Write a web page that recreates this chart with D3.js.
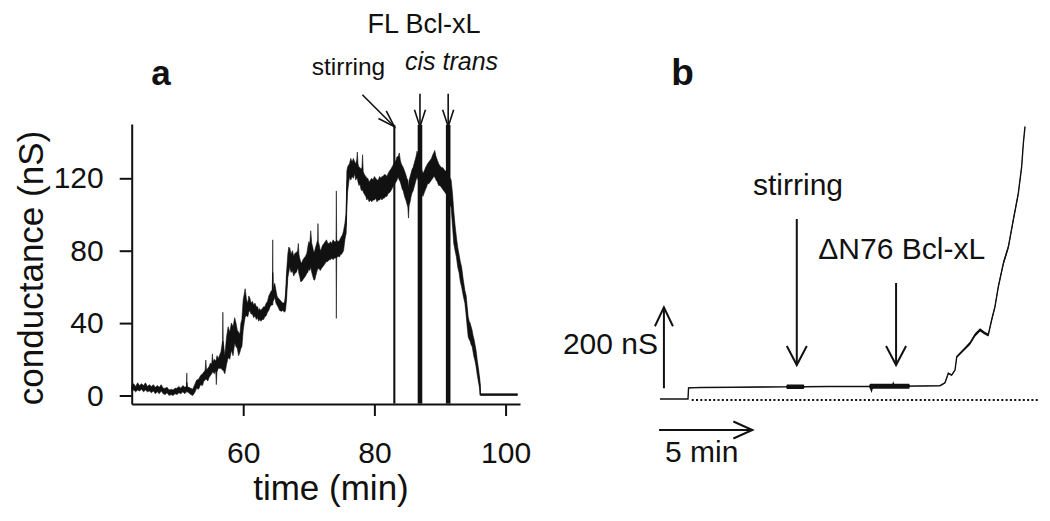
<!DOCTYPE html>
<html><head><meta charset="utf-8">
<script src="https://cdn.jsdelivr.net/npm/d3@7"></script>
<style>
body{margin:0;background:#fff}
svg{display:block}
text{font-family:"Liberation Sans",Arial,Helvetica,sans-serif;fill:#111}
</style>
</head><body>
<svg id="chart" width="1050" height="521"></svg>
<script>
// ---------- Panel a : conductance (nS) vs time (min), envelope [time, low, high] ----------
const traceA = [
 [43.0,2.5,5.5],[43.3,3,6.5],[43.6,2,5],[43.9,3,7],[44.2,2.5,5.5],[44.5,3.5,6.5],[44.8,2,5.5],
 [45.1,3,7],[45.4,2,5],[45.7,2.5,6],[46.0,1.5,5],[46.3,2.5,6],[46.6,1,4.5],[46.9,2,5.5],[47.2,1,4.5],
 [47.5,2.5,6],[47.8,1,4],[48.1,0.5,4],[48.4,1.5,4.5],[48.7,0,3],[49.0,0.5,3.5],[49.3,0,3],[49.6,1,4],
 [49.9,0.5,4],[50.2,1.5,5],[50.5,1,4],[50.8,2,5.5],[51.1,1,4.5],[51.35,2,5],[51.4,2,12.4],[51.45,2,5],
 [51.7,1.5,4.5],[52.0,0.5,4],[52.3,0,3.5],[52.6,1.5,6],[52.9,4,8.5],[53.2,3.5,9],[53.5,6,11],
 [53.8,5.5,12],[54.0,8,13],[54.2,8.5,14],[54.3,9,19.6],[54.4,9,14],[54.6,8,15],[54.8,10,16],
 [55.0,11,18],[55.2,12,17],[55.3,13,23],[55.4,13,18.6],[55.6,12,20],[55.8,14,19],[55.9,6,20],
 [56.0,13,22],[56.2,15,20.5],[56.6,15,24],[56.85,14,30],[56.9,14,46],[56.95,14,30],[57.2,12,22],
 [57.45,17,32],[57.7,21,38],[57.95,20,35],[58.2,25,40],[58.45,22,38],[58.7,29,43],[58.9,27,40],
 [59.1,26,36],[59.3,22,35],[59.5,24,34],[59.65,26,40],[59.8,27,42],[60.0,36,53],[60.15,40,56],
 [60.3,43.5,59],[60.5,44,53],[60.7,43.5,51],[60.85,46,55],[61.0,47,54],[61.2,45,51],[61.4,45,52],
 [61.6,43,50],[61.8,44,51],[62.0,42,49],[62.2,43,49],[62.35,41,47],[62.5,42,48],[62.7,41,47],
 [62.9,42,48],[63.1,42,49],[63.3,43.5,49],[63.5,44,51],[63.7,46,52],[63.9,47,55],[64.1,49,56.5],
 [64.3,50,58],[64.45,50,57],[64.5,50,86],[64.55,52,58],[64.7,53,61],[64.8,54.5,62],[65.0,51,58],
 [65.15,50,55],[65.3,49,54],[65.55,47,53],[65.8,46.5,52],[66.05,47,51],[66.3,46,51.5],[66.45,47,56],
 [66.6,52.7,67.6],[66.8,65,78],[66.95,68,82],[67.1,71,81.4],[67.3,68,78],[67.5,69,80],[67.7,66,77],
 [67.9,67.6,78.6],[68.1,68,79],[68.3,70,80],[68.4,70,84],[68.5,67,78],[68.6,66,76],[68.75,63,74],
 [68.9,63,73],[69.1,64,75],[69.3,65,76],[69.5,66,77],[69.7,67.6,78.6],[69.85,68,82],[70.0,70,85],
 [70.15,69,84],[70.3,71,91],[70.45,68,84],[70.6,66,82],[70.75,64,79],[70.9,63.7,80],[71.05,66,82],
 [71.2,68,84],[71.35,70,86],[71.4,70,95],[71.45,70,85],[71.6,70,83],[71.75,69,80],[71.9,70,81],
 [72.1,71,83],[72.3,72,84],[72.5,73,85],[72.7,74,86],[72.9,74,84],[73.1,75,84],[73.3,75,85],
 [73.5,76,84],[73.7,75,86],[73.9,76,85],[74.15,76,85],[74.2,42.6,113],[74.25,76,86],[74.45,77,85],
 [74.7,76.6,85.8],[74.85,78,87],[75.0,78,88],[75.15,79,89],[75.3,80,91],[75.5,86,95],[75.6,88,98],
 [75.7,89.6,100.7],[75.8,104,124],[75.9,112,126],[76.0,115,127],[76.2,120.7,128],[76.4,119,131],
 [76.6,121,129],[76.8,120,131],[77.0,122.6,129],[77.15,119,128],[77.3,120,130],[77.4,120,134.5],
 [77.5,118,128],[77.65,116,126],[77.8,117,126],[77.95,114,125],[78.1,113,126],[78.2,114,133],
 [78.3,112.4,123.5],[78.5,111,122],[78.7,110,121],[78.85,108,120],[79.0,109,120],[79.2,107,118],
 [79.4,108,119],[79.6,107,120],[79.8,108,119],[80.0,108,121],[80.2,109,120],[80.4,107,119],
 [80.6,108,119],[80.8,108,121],[81.0,109,120],[81.15,108,121],[81.3,109,121],[81.5,109,122],
 [81.7,110,122],[81.9,110,121],[82.1,111.6,122.7],[82.3,112,124],[82.5,113,125],[82.65,114,126],
 [82.8,115,127],[83.1,117,129],[83.3,118,130],[83.45,119,132],[83.6,120.7,131.7],[83.8,119,134],
 [83.95,118,130],[84.1,116,128],[84.25,114,127],[84.4,113,126],[84.6,110,124],[84.8,108,122],
 [84.95,106,120],[85.1,104,119],[85.2,98,115],[85.3,105,119],[85.45,107,121],[85.6,110,123],
 [85.75,112,125],[85.9,113,126],[86.05,115,128],[86.2,117,130],[86.35,119,132],[86.5,120.7,135],
 [86.8,118,132],[87.2,112,125],[87.4,110,122.7],[87.6,112,124],[87.8,114,126],[87.95,115,127],
 [88.1,117,128],[88.3,117,129],[88.5,118,130],[88.7,119,131],[88.9,120,133],[89.05,121,134],
 [89.2,120.7,135.4],[89.4,119,132],[89.6,118,130],[89.8,116,128],[90.0,116,127],[90.2,115,126],
 [90.4,114,126],[90.6,113,125],[90.8,112,124],[91.0,111,124],[91.4,106,121],[91.7,104,119],
 [91.9,94,112],[92.1,84,102],[92.3,80,94],[92.5,76.6,87.6],[92.7,71,82],[92.9,68,78],[93.1,63,74],
 [93.3,60,71],[93.55,55,64],[93.8,51,58],[94.0,44,55],[94.15,38,49],[94.3,32.4,43.5],[94.45,31,41],
 [94.6,30,40],[94.75,28,38],[94.9,27,36],[95.05,24,33],[95.2,21,31],[95.35,19,28],[95.5,16,25],
 [95.7,11,19],[95.9,6.7,14],[96.1,3,8],[96.15,0,1],[101.8,0,1]
];
// full-range artefacts at the stirring / cis / trans additions: [start, end] in min
const spikesA = [[82.88,83.2],[86.6,87.3],[90.9,91.6]];
const spikeRangeA = [-4.5,149.5];
const xTicksA = [60,80,100];
const yTicksA = [0,40,80,120];
const arrowTimesA = [83.05, 86.95, 91.25];

// ---------- Panel b : conductance (nS) vs time (min), envelope [time, low, high] ----------
const traceB = [
 [0,2.5,2.5],[1.5,2.5,2.5],[1.53,29,31],[2.2,30.5,31.5],[4,31,32],[5.5,31.5,32.5],[6.75,32,33],
 [6.8,27,38],[7.7,27,38],[7.75,32,33.5],[9,32.5,34],[11.2,33,34],[11.25,28,40],[11.34,17,40],
 [11.4,28,40],[12.45,28,40],[12.5,28,46],[12.55,28,40],[13.35,28,40],[13.4,33.5,35],[15.0,34.5,36],
 [15.27,41,44],[15.45,64,68],[15.63,60,63],[15.81,72,76],[15.9,104,109],[16.08,112,118],
 [16.35,124,131],[16.61,136,144],[16.88,156,165],[17.15,169,177],[17.42,161,168],[17.59,157,164],
 [17.77,193,202],[17.95,226,235],[18.13,275,285],[18.4,332,343],[18.67,373,384],[18.93,438,450],
 [19.2,504,516],[19.38,570,582],[19.47,628,640],[19.56,670,680]
];
const baselineB = [1.7, 20.35];          // dotted zero line (min)
const arrowTimesB = [7.33, 12.65];
const scaleBarNS = 200, scaleBarMin = 5;

const svg = d3.select("#chart");
const ink = "#111";

function arrow(g, x1, y1, x2, y2, len, half, w) {
  const a = Math.atan2(y2 - y1, x2 - x1);
  g.append("line").attr("x1", x1).attr("y1", y1).attr("x2", x2).attr("y2", y2)
    .attr("stroke", ink).attr("stroke-width", w);
  const bx = x2 - len * Math.cos(a), by = y2 - len * Math.sin(a);
  const px = -Math.sin(a) * half, py = Math.cos(a) * half;
  g.append("path").attr("d", `M${bx+px},${by+py}L${x2},${y2}L${bx-px},${by-py}`)
    .attr("fill", "none").attr("stroke", ink).attr("stroke-width", w);
}

// ================= Panel a =================
const xA = d3.scaleLinear().domain([43.0, 102.2]).range([131.7, 520]);
const yA = d3.scaleLinear().domain([-4.7, 150]).range([404, 124]);
const ga = svg.append("g");

ga.append("path").datum(traceA)
  .attr("d", d3.area().x(d => xA(d[0])).y0(d => yA(d[1])).y1(d => yA(d[2])))
  .attr("fill", ink).attr("stroke", ink).attr("stroke-width", 0.6);
ga.append("path").datum(traceA)
  .attr("d", d3.line().x(d => xA(d[0])).y(d => yA((d[1] + d[2]) / 2)))
  .attr("fill", "none").attr("stroke", ink).attr("stroke-width", 1.3);
ga.selectAll("rect.sp").data(spikesA).enter().append("rect")
  .attr("x", d => xA(d[0])).attr("width", d => xA(d[1]) - xA(d[0]))
  .attr("y", yA(spikeRangeA[1])).attr("height", yA(spikeRangeA[0]) - yA(spikeRangeA[1]))
  .attr("fill", ink);

const axX = ga.append("g").attr("transform", "translate(0,404)")
  .call(d3.axisBottom(xA).tickValues(xTicksA).tickSize(12).tickSizeOuter(0).tickFormat(d3.format("d")));
axX.selectAll("text").attr("y", 59).attr("dy", 0).style("font-size", "30px").attr("fill", ink);
const axY = ga.append("g").attr("transform", "translate(131.7,0)")
  .call(d3.axisLeft(yA).tickValues(yTicksA).tickSize(12).tickSizeOuter(0).tickPadding(16).tickFormat(d3.format("d")));
axY.selectAll("text").style("font-size", "30px").attr("fill", ink);
[axX, axY].forEach(ax => {
  ax.select(".domain").attr("stroke", ink).attr("stroke-width", 2);
  ax.selectAll(".tick line").attr("stroke", ink).attr("stroke-width", 2);
});

ga.append("text").attr("x", 331).attr("y", 500).attr("text-anchor", "middle")
  .style("font-size", "35px").text("time (min)");
ga.append("text").attr("transform", "translate(43,268) rotate(-90)").attr("text-anchor", "middle")
  .style("font-size", "35px").text("conductance (nS)");
ga.append("text").attr("x", 161).attr("y", 85).attr("text-anchor", "middle")
  .style("font-size", "35px").style("font-weight", "bold").text("a");
ga.append("text").attr("x", 424).attr("y", 33).attr("text-anchor", "middle")
  .style("font-size", "27px").text("FL Bcl-xL");
ga.append("text").attr("x", 348.5).attr("y", 75).attr("text-anchor", "middle")
  .style("font-size", "24.5px").text("stirring");
ga.append("text").attr("x", 451.5).attr("y", 70).attr("text-anchor", "middle")
  .style("font-size", "25px").style("font-style", "italic").text("cis trans");

const tipY = yA(148.5);
arrow(ga, xA(arrowTimesA[0]) - 32, tipY - 32, xA(arrowTimesA[0]), tipY, 17, 5.5, 1.6);
arrow(ga, xA(arrowTimesA[1]), tipY - 33, xA(arrowTimesA[1]), tipY, 17, 5.5, 1.6);
arrow(ga, xA(arrowTimesA[2]), tipY - 33, xA(arrowTimesA[2]), tipY, 17, 5.5, 1.6);

// ================= Panel b =================
const xB = d3.scaleLinear().domain([0, 20.4]).range([660, 1040.7]);
const yB = d3.scaleLinear().domain([0, 676]).range([400, 126.2]);
const gb = svg.append("g");

gb.append("line").attr("x1", xB(baselineB[0])).attr("x2", xB(baselineB[1]))
  .attr("y1", yB(0)).attr("y2", yB(0))
  .attr("stroke", ink).attr("stroke-width", 2).attr("stroke-dasharray", "2,2.3");
gb.append("path").datum(traceB)
  .attr("d", d3.area().x(d => xB(d[0])).y0(d => yB(d[1])).y1(d => yB(d[2])))
  .attr("fill", ink);
gb.append("path").datum(traceB)
  .attr("d", d3.line().x(d => xB(d[0])).y(d => yB((d[1] + d[2]) / 2)))
  .attr("fill", "none").attr("stroke", ink).attr("stroke-width", 1.4);

// scale bars
arrow(gb, xB(0.21), yB(28.9), xB(0.21), yB(28.9 + scaleBarNS), 19, 9, 2);
arrow(gb, xB(-0.05), 430, xB(-0.05 + scaleBarMin), 430, 19, 8.5, 2);
gb.append("text").attr("x", 658).attr("y", 354).attr("text-anchor", "end")
  .style("font-size", "30px").text(scaleBarNS + " nS");
gb.append("text").attr("x", 665).attr("y", 462)
  .style("font-size", "30px").text(scaleBarMin + " min");

// event arrows
arrow(gb, xB(arrowTimesB[0]), 219, xB(arrowTimesB[0]), 365, 19, 10, 2);
arrow(gb, xB(arrowTimesB[1]), 283, xB(arrowTimesB[1]), 365, 19, 10, 2);
gb.append("text").attr("x", 798).attr("y", 195).attr("text-anchor", "middle")
  .style("font-size", "30px").text("stirring");
gb.append("text").attr("x", 901.7).attr("y", 259).attr("text-anchor", "middle")
  .style("font-size", "30px").text("\u0394N76 Bcl-xL");
gb.append("text").attr("x", 682.5).attr("y", 85).attr("text-anchor", "middle")
  .style("font-size", "37px").style("font-weight", "bold").text("b");
</script>
</body></html>
